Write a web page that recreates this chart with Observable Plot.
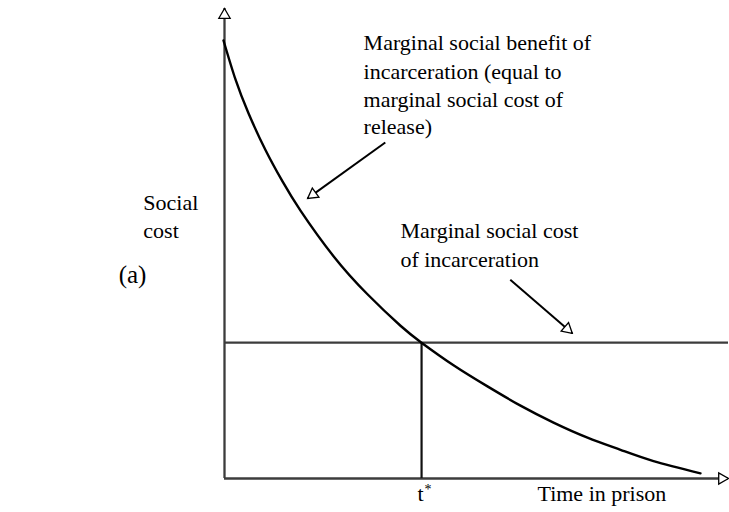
<!DOCTYPE html>
<html><head><meta charset="utf-8">
<script src="https://cdn.jsdelivr.net/npm/d3@7"></script>
<script src="https://cdn.jsdelivr.net/npm/@observablehq/plot@0.6"></script>
<style>body{margin:0;background:#fff}</style>
</head><body><div id="chart"></div>
<script>
// Marginal social benefit of incarceration curve
const timeValues = [-0.2, 2.18, 4.76, 8.13, 11.51, 15.08, 21.63, 28.37, 34.92, 39.09, 45.44, 52.18, 58.73, 65.28, 72.02, 78.57, 85.12, 94.44];
const benefitValues = [93.2, 84.9, 77.7, 69.9, 63.2, 57.0, 47.3, 39.2, 32.5, 28.9, 24.1, 19.6, 15.5, 11.9, 8.7, 6.1, 3.7, 1.1];
// Marginal social cost of incarceration (flat)
const costLevel = 28.9;
const tStar = 39.1;
const axisMax = {t: 100, cost: 100};

// Annotation pointers (data units): from -> to
const pointers = [
  {x1: 31.9, y1: 71.5, x2: 16.5, y2: 59.6},
  {x1: 56.7, y1: 42.3, x2: 69.0, y2: 30.9}
];

// Text labels (data units, baseline position)
const labelText = [
  "Marginal social benefit of", "incarceration (equal to", "marginal social cost of", "release)",
  "Marginal social cost", "of incarceration",
  "Social", "cost",
  "Time in prison"
];
const labelX = [27.6, 27.6, 27.6, 27.6, 34.9, 34.9, -16.1, -16.1, 62.1];
const labelY = [91.1, 85.1, 79.1, 73.2, 51.1, 44.9, 57.2, 51.1, -4.7];

const W = 729, H = 512;
const M = {top: 8, right: 1, bottom: 34, left: 224};
const kx = (W - M.left - M.right) / axisMax.t;
const ky = (H - M.top - M.bottom) / axisMax.cost;

const curve = timeValues.map((t, i) => ({t, v: benefitValues[i]}));
const labels = labelText.map((s, i) => ({s, x: labelX[i], y: labelY[i]}));

// arrow heads: tip positions and directions
const R = 4.2;
const tipDist = 2 * Math.sqrt(Math.PI * R * R / (Math.sqrt(3) * 3));
const heads = [
  {x1: 0, y1: 0, x2: 0, y2: axisMax.cost},
  {x1: 0, y1: 0, x2: axisMax.t, y2: 0},
  ...pointers
].map(p => {
  const dxp = (p.x2 - p.x1) * kx, dyp = -(p.y2 - p.y1) * ky;
  const len = Math.hypot(dxp, dyp);
  const ux = dxp / len, uy = dyp / len;
  return {
    x: p.x2 - ux * tipDist / kx,
    y: p.y2 + uy * tipDist / ky,
    rot: Math.atan2(dxp, -dyp) * 180 / Math.PI
  };
});

const font = "'Liberation Serif', 'Times New Roman', serif";

const plot = Plot.plot({
  width: W, height: H,
  marginTop: M.top, marginRight: M.right, marginBottom: M.bottom, marginLeft: M.left,
  x: {domain: [0, axisMax.t], axis: null},
  y: {domain: [0, axisMax.cost], axis: null},
  style: {fontFamily: font, overflow: "visible", background: "white"},
  marks: [
    // axes
    Plot.ruleX([0], {y1: 0, y2: axisMax.cost, stroke: "#3c3c3c", strokeWidth: 2.3}),
    Plot.ruleY([0], {x1: 0, x2: axisMax.t, stroke: "#3c3c3c", strokeWidth: 2.3}),
    // marginal social cost line
    Plot.ruleY([costLevel], {x1: 0, x2: axisMax.t, stroke: "#3c3c3c", strokeWidth: 2.3}),
    // t* drop line
    Plot.ruleX([tStar], {y1: 0, y2: costLevel, stroke: "#111", strokeWidth: 2.2}),
    // benefit curve
    Plot.line(curve, {x: "t", y: "v", curve: "natural", stroke: "#000", strokeWidth: 2.4}),
    // pointer shafts
    Plot.link(pointers, {x1: "x1", y1: "y1", x2: "x2", y2: "y2", stroke: "#000", strokeWidth: 2}),
    // hollow arrow heads
    Plot.dot(heads, {x: "x", y: "y", rotate: "rot", symbol: "triangle", r: R, fill: "white", stroke: "#000", strokeWidth: 1.3}),
    // labels
    Plot.text(labels, {x: "x", y: "y", text: "s", textAnchor: "start", lineAnchor: "bottom", fontSize: 22, fill: "#000"}),
    Plot.text(["t"], {x: tStar, y: -4.7, text: d => d, textAnchor: "end", lineAnchor: "bottom", dx: 2, fontSize: 22, fill: "#000"}),
    Plot.text(["*"], {x: tStar, y: -4.7, text: d => d, textAnchor: "start", lineAnchor: "bottom", dx: 3, dy: -7, fontSize: 14, fill: "#000"}),
    Plot.text(["(a)"], {x: -21, y: 41.5, text: d => d, textAnchor: "start", lineAnchor: "bottom", fontSize: 25, fill: "#000"})
  ]
});
document.getElementById("chart").appendChild(plot);
</script>
</body></html>
